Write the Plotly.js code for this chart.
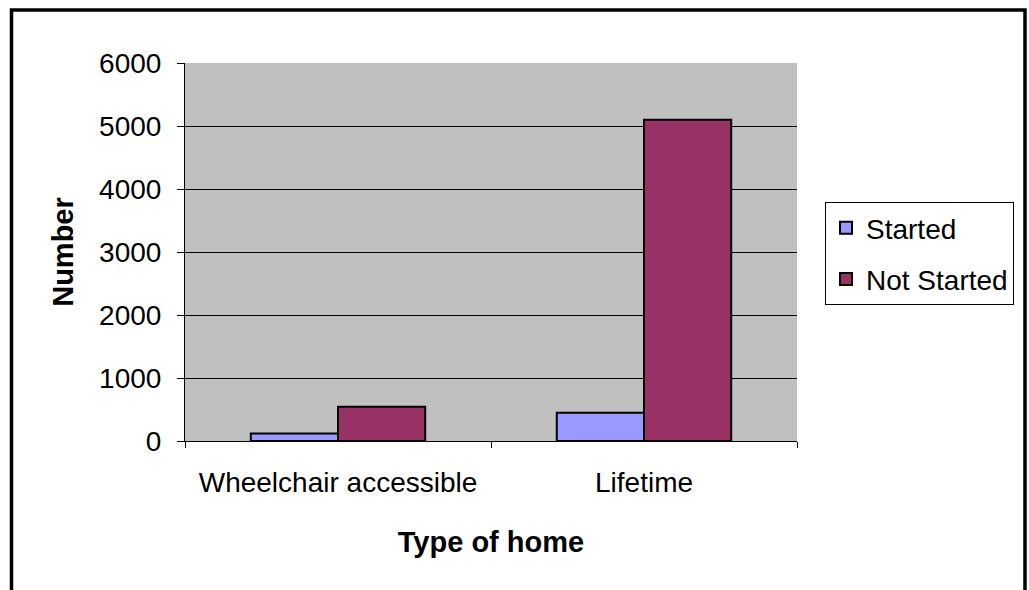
<!DOCTYPE html>
<html>
<head>
<meta charset="utf-8">
<script src="https://cdn.plot.ly/plotly-3.0.1.min.js"></script>
<style>html,body{margin:0;padding:0;background:#fff;}#chart{width:1029px;height:590px;}</style>
</head>
<body>
<div id="chart"></div>
<script>
const categories = ["Wheelchair accessible", "Lifetime"];
const started = [120, 450];
const notStarted = [545, 5100];
const seriesNames = ["Started", "Not Started"];
const yTicks = [0, 1000, 2000, 3000, 4000, 5000, 6000];

const W = 1029, H = 590, L = 185, R = 232, T = 63, B = 149;
const pw = W - L - R, ph = H - T - B;
const px = x => (x - L) / pw;
const py = y => (H - B - y) / ph;

const traces = [
  {type: 'bar', name: seriesNames[0], x: categories, y: started, legendgroup: 'g1',
   marker: {color: '#9999ff', line: {color: '#000', width: 2}}},
  {type: 'bar', name: seriesNames[1], x: categories, y: notStarted, legendgroup: 'g2',
   marker: {color: '#993366', line: {color: '#000', width: 2}}}
];

const layout = {
  width: W, height: H,
  margin: {l: L, r: R, t: T, b: B, pad: 0},
  paper_bgcolor: '#fff', plot_bgcolor: '#c0c0c0',
  font: {family: 'Liberation Sans, Arial, sans-serif', color: '#000', size: 28},
  barmode: 'group', bargap: 0.43, bargroupgap: 0,
  showlegend: true,
  legend: {x: px(825), y: py(202), xanchor: 'left', yanchor: 'top',
           bordercolor: '#000', borderwidth: 1, bgcolor: '#fff',
           font: {size: 28}, tracegroupgap: 12, itemwidth: 30},
  xaxis: {type: 'category', showline: true, linecolor: '#000', linewidth: 1,
          ticks: 'outside', tickson: 'boundaries', ticklen: 6, tickcolor: '#000',
          ticklabelstandoff: 16,
          showgrid: false, tickfont: {size: 28},
          title: {text: '<b>Type of home</b>', font: {size: 29}, standoff: 35}},
  yaxis: {range: [0, 6000], tickvals: yTicks, showline: true, linecolor: '#000', linewidth: 1,
          ticks: 'outside', ticklen: 7, tickcolor: '#000',
          ticklabelstandoff: 10,
          showgrid: true, gridcolor: '#000', gridwidth: 1, zeroline: false,
          tickfont: {size: 28},
          title: {text: '<b>Number</b>', font: {size: 29}, standoff: 16}},
  shapes: [
    {type: 'rect', xref: 'paper', yref: 'paper',
     x0: px(11.5), x1: px(1025), y0: py(620), y1: py(10),
     line: {color: '#000', width: 3.5}, fillcolor: 'rgba(0,0,0,0)', layer: 'below'}
  ]
};

Plotly.newPlot('chart', traces, layout, {staticPlot: true});
</script>
</body>
</html>
